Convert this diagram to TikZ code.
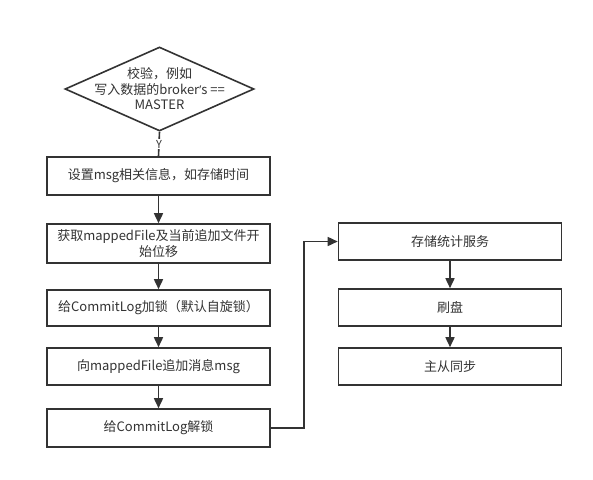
\documentclass[tikz,border=0pt]{standalone}
\usepackage{fontspec}
\setmainfont{Noto Sans CJK SC}
\newfontfamily\latinf{Open Sans}
\usetikzlibrary{shapes.geometric,arrows.meta}
\definecolor{ink}{HTML}{333333}
\tikzset{
  flowbox/.style={draw=ink, line width=1.6pt, fill=white, minimum width=223pt, inner sep=0pt, align=center, text=ink, font=\fontsize{13}{16.5}\selectfont},
  flowarrow/.style={draw=ink, line width=1.6pt, -{Triangle[length=10pt,width=9pt]}},
  flowline/.style={draw=ink, line width=1.6pt},
}
\begin{document}
\begin{tikzpicture}[x=1pt,y=-1pt]
\useasboundingbox[fill=white] (0,0) rectangle (593,479);
% diamond
\node[diamond, draw=ink, line width=1.6pt, minimum width=189pt, minimum height=84pt, inner sep=0pt] (d) at (159.5,89) {};
\node[text=ink, font=\fontsize{13}{15.5}\selectfont, align=center, inner sep=0pt] (dt) at (159.5,89) {校验，例如\\写入数据的broker{\latinf\fontsize{12}{15.5}\selectfont ’}s ==\\MASTER};
% left column
\node[flowbox, minimum height=38pt] (b1) at (158.5,176) {设置msg相关信息，如存储时间};
\node[flowbox, minimum height=39pt] (b2) at (158.5,243.5) {获取mappedFile及当前追加文件开\\始位移};
\node[flowbox, minimum height=36pt] (b3) at (158.5,308) {给CommitLog加锁（默认自旋锁）};
\node[flowbox, minimum height=37pt] (b4) at (158.5,366.5) {向mappedFile追加消息msg};
\node[flowbox, minimum height=38pt] (b5) at (158.5,428) {给CommitLog解锁};
% right column
\node[flowbox, minimum height=37pt] (r1) at (450,241.5) {存储统计服务};
\node[flowbox, minimum height=37pt] (r2) at (450,307.5) {刷盘};
\node[flowbox, minimum height=37pt] (r3) at (450,366.5) {主从同步};
% connectors
\draw[flowline] (d.south) -- node[fill=white, text=ink, inner sep=1pt, font=\fontsize{11}{12}\selectfont] (ylab) {Y} (b1.north);
\draw[flowarrow] (b1) -- (b2);
\draw[flowarrow] (b2) -- (b3);
\draw[flowarrow] (b3) -- (b4);
\draw[flowarrow] (b4) -- (b5);
\coordinate (bend) at (304,428);
\draw[flowarrow] (b5.east) -- (bend) |- (r1.west);
\draw[flowarrow] (r1) -- (r2);
\draw[flowarrow] (r2) -- (r3);
\end{tikzpicture}
\end{document}
